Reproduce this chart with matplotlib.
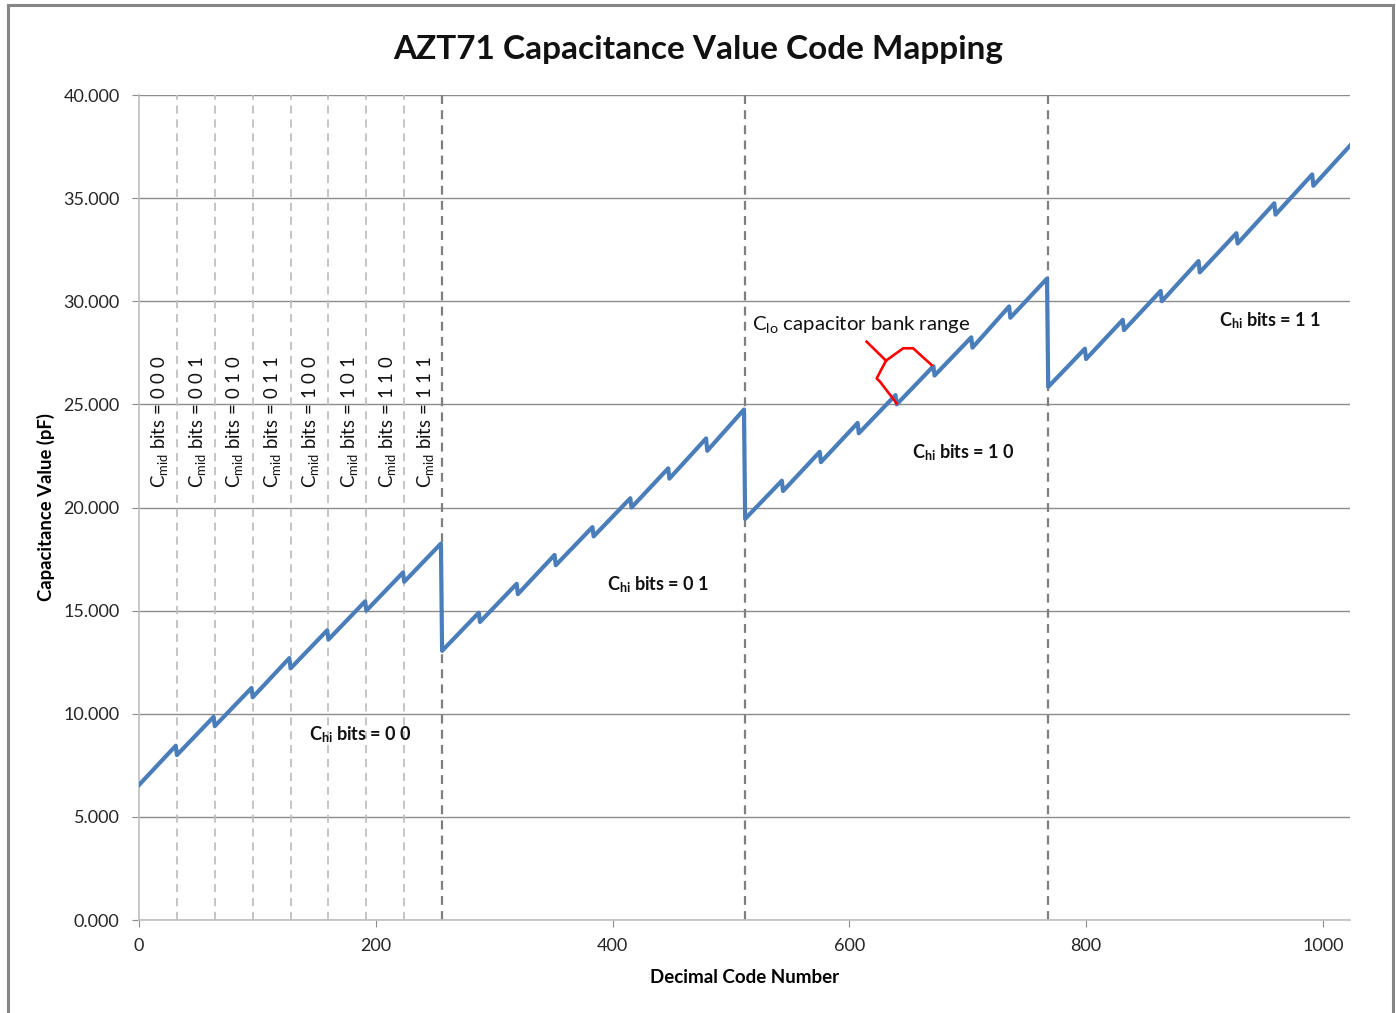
import matplotlib.pyplot as plt
import numpy as np
from matplotlib.patches import Rectangle

plt.rcParams['font.family'] = ['Lato', 'DejaVu Sans']
plt.rcParams['mathtext.fontset'] = 'custom'
plt.rcParams['mathtext.rm'] = 'Lato'
plt.rcParams['mathtext.it'] = 'Lato:italic'
plt.rcParams['mathtext.bf'] = 'Lato:bold'

# capacitance at the first code (32*k) and last code (32*k+31) of each Cmid segment
seg_start = [6.55, 8.0, 9.4, 10.8, 12.2, 13.6, 15.0, 16.4,
             13.05, 14.45, 15.8, 17.2, 18.6, 20.0, 21.4, 22.75,
             19.45, 20.8, 22.2, 23.6, 25.0, 26.4, 27.75, 29.2,
             25.85, 27.2, 28.6, 30.0, 31.4, 32.8, 34.2, 35.6]
seg_end = [8.45, 9.85, 11.25, 12.7, 14.05, 15.45, 16.85, 18.25,
           14.9, 16.3, 17.7, 19.05, 20.45, 21.9, 23.35, 24.75,
           21.3, 22.7, 24.1, 25.45, 26.85, 28.25, 29.75, 31.1,
           27.7, 29.1, 30.5, 31.95, 33.3, 34.75, 36.15, 37.55]
seg_len = 32

cmid_bounds = [32, 64, 96, 128, 160, 192, 224]
chi_bounds = [256, 512, 768]
cmid_labels = ['0 0 0', '0 0 1', '0 1 0', '0 1 1', '1 0 0', '1 0 1', '1 1 0', '1 1 1']
cmid_label_x = [17.5, 49, 81, 113, 145, 178, 210, 242]
chi_labels = ['0 0', '0 1', '1 0', '1 1']
chi_label_x = [187, 438, 696, 955]
chi_label_y = [8.97, 16.24, 22.64, 29.04]

codes = []
caps = []
for k in range(len(seg_start)):
    codes += [k * seg_len, k * seg_len + seg_len - 1]
    caps += [seg_start[k], seg_end[k]]

fig = plt.figure(figsize=(13.96, 10.13), dpi=100)
ax = fig.add_axes([0.0996, 0.0918, 0.8675, 0.8144])

for b in cmid_bounds:
    ax.axvline(b, color='#c0c0c0', lw=1.3, ls=(0, (4.5, 3.2)), zorder=1)
for b in chi_bounds:
    ax.axvline(b, color='#7f7f7f', lw=1.6, ls=(0, (4.0, 2.8)), zorder=1)

ax.plot(codes, caps, color='#4a7ebb', lw=3.0, zorder=3)

ax.set_xlim(0, 1023)
ax.set_ylim(0, 40)
ax.set_xticks(np.arange(0, 1001, 200))
ax.set_yticks(np.arange(0, 40.1, 5))
ax.yaxis.set_major_formatter(plt.FormatStrFormatter('%.3f'))
ax.yaxis.grid(True, color='#8c8c8c', lw=1.0)
ax.set_axisbelow(True)
for s in ['top', 'right']:
    ax.spines[s].set_visible(False)
for s in ['left', 'bottom']:
    ax.spines[s].set_color('#bfbfbf')
    ax.spines[s].set_linewidth(1.2)
ax.tick_params(axis='both', direction='out', length=5, color='#8c8c8c',
               labelsize=13, labelcolor='#262626')
ax.tick_params(axis='y', pad=9)
ax.tick_params(axis='x', pad=8)

ax.set_xlabel('Decimal Code Number', fontsize=13.5, fontweight='bold', labelpad=11)
ax.set_ylabel('Capacitance Value (pF)', fontsize=13.3, fontweight='bold', labelpad=6)
fig.text(0.5, 0.951, 'AZT71 Capacitance Value Code Mapping', ha='center', va='center',
         fontsize=24, fontweight='bold', color='#111111')

for x, lab in zip(cmid_label_x, cmid_labels):
    ax.text(x, 20.95, r'C$_{\mathrm{mid}}$ bits = ' + lab, rotation=90,
            ha='center', va='bottom', fontsize=13.4, color='#111111')

for x, y, lab in zip(chi_label_x, chi_label_y, chi_labels):
    ax.text(x, y, r'C$_{\mathbf{hi}}$ bits = ' + lab, ha='center', va='center',
            fontsize=13, fontweight='bold', color='#111111')

ax.text(610, 28.85, r'C$_{\mathrm{lo}}$ capacitor bank range', ha='center', va='center',
        fontsize=14.7, color='#111111')

# red brace marking one Clo range (codes 640-671)
brace_x = [640.0, 625.9, 623.1, 631.0, 645.5, 653.9, 669.5]
brace_y = [25.05, 26.10, 26.26, 27.12, 27.72, 27.72, 26.91]
ax.plot(brace_x, brace_y, color='#ff0000', lw=1.9, zorder=4)
ax.plot([631.0, 614.6], [27.12, 28.04], color='#ff0000', lw=1.9, zorder=4)

fig.patches.append(Rectangle((0.0057, -0.05), 0.9922, 1.0451, transform=fig.transFigure,
                             fill=False, edgecolor='#868686', lw=2.2))

fig.savefig('out.png', dpi=100)
